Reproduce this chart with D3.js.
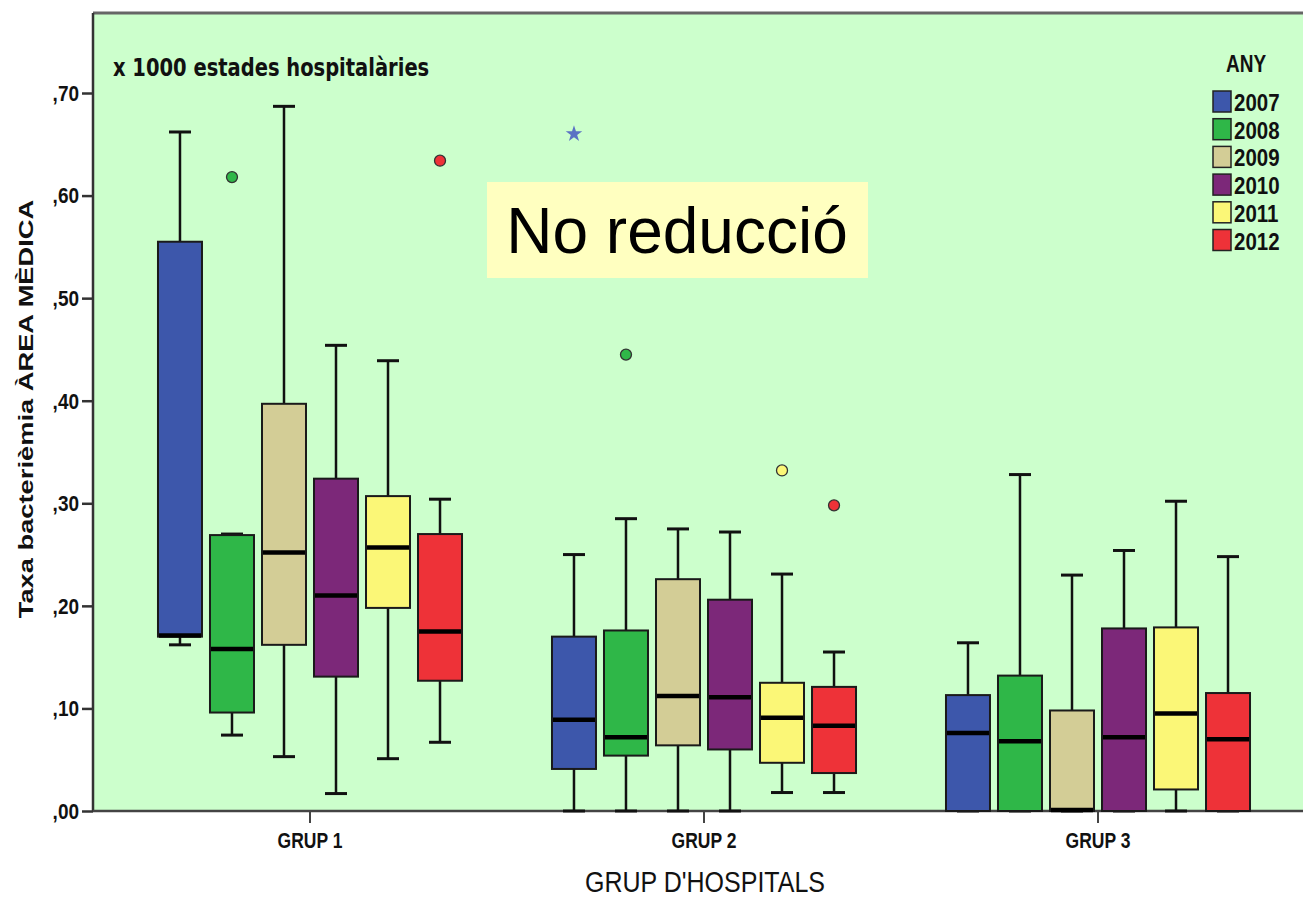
<!DOCTYPE html>
<meta charset="utf-8">
<style>
  body { margin: 0; background: #fff; }
  text { font-family: "Liberation Sans", Arial, sans-serif; fill: #111; }
</style>
<svg width="1303" height="899"></svg>
<script src="https://d3js.org/d3.v7.min.js"></script>
<script>

var groups = ["GRUP 1", "GRUP 2", "GRUP 3"];
var years = ["2007", "2008", "2009", "2010", "2011", "2012"];
var colors = ["#3d57ab", "#2fb748", "#d3cd96", "#7c2879", "#fbf777", "#ee3238"];

// one row per group, one column per year
var whiskerLow = [
  [0.162, 0.074, 0.053, 0.017, 0.051, 0.067],
  [0.000, 0.000, 0.000, 0.000, 0.018, 0.018],
  [0.000, 0.000, 0.000, 0.000, 0.000, 0.000]
];
var q1 = [
  [0.170, 0.096, 0.162, 0.131, 0.198, 0.127],
  [0.041, 0.054, 0.064, 0.060, 0.047, 0.037],
  [0.000, 0.000, 0.000, 0.000, 0.021, 0.000]
];
var median = [
  [0.171, 0.158, 0.252, 0.210, 0.257, 0.175],
  [0.089, 0.072, 0.112, 0.111, 0.091, 0.083],
  [0.076, 0.068, 0.001, 0.072, 0.095, 0.070]
];
var q3 = [
  [0.555, 0.269, 0.397, 0.324, 0.307, 0.270],
  [0.170, 0.176, 0.226, 0.206, 0.125, 0.121],
  [0.113, 0.132, 0.098, 0.178, 0.179, 0.115]
];
var whiskerHigh = [
  [0.662, 0.270, 0.687, 0.454, 0.439, 0.304],
  [0.250, 0.285, 0.275, 0.272, 0.231, 0.155],
  [0.164, 0.328, 0.230, 0.254, 0.302, 0.248]
];

var outlierGroup = ["GRUP 1", "GRUP 1", "GRUP 2", "GRUP 2", "GRUP 2", "GRUP 2"];
var outlierYear = ["2008", "2012", "2007", "2008", "2011", "2012"];
var outlierValue = [0.618, 0.634, 0.660, 0.445, 0.332, 0.298];
var outlierExtreme = [false, false, true, false, false, false];

var yTicks = [0, 0.1, 0.2, 0.3, 0.4, 0.5, 0.6, 0.7];

var svg = d3.select("svg"),
    width = +svg.attr("width"),
    height = +svg.attr("height");

var plotLeft = 93, plotTop = 13, plotBottom = 811, plotRight = width;

var y = d3.scaleLinear()
    .domain([0, 0.778])
    .range([plotBottom, plotTop]);

var x0 = d3.scaleBand()
    .domain(groups)
    .range([113, 1295]);

var x1 = d3.scaleBand()
    .domain(years)
    .range([0, x0.bandwidth()])
    .paddingInner(0.154)
    .paddingOuter(0.865);

var color = d3.scaleOrdinal()
    .domain(years)
    .range(colors);

// plot background
svg.append("rect")
    .attr("x", plotLeft)
    .attr("y", plotTop)
    .attr("width", plotRight - plotLeft)
    .attr("height", plotBottom - plotTop)
    .attr("fill", "#ccffcc");

svg.append("line")
    .attr("x1", plotLeft).attr("x2", plotRight)
    .attr("y1", plotTop).attr("y2", plotTop)
    .attr("stroke", "#666")
    .attr("stroke-width", 3);

// axes
var yAxis = svg.append("g")
    .attr("transform", "translate(" + plotLeft + ",0)")
    .call(d3.axisLeft(y)
      .tickValues(yTicks)
      .tickSize(11)
      .tickPadding(3)
      .tickFormat(function(d) { return d3.format(".2f")(d).replace("0.", ","); }));

yAxis.select(".domain")
    .attr("d", "M0," + plotTop + "V" + plotBottom)
    .attr("stroke", "#333")
    .attr("stroke-width", 2.5);
yAxis.selectAll(".tick line").attr("stroke", "#333").attr("stroke-width", 2.5);
yAxis.selectAll(".tick text")
    .attr("font-size", 19)
    .attr("font-weight", "bold")
    .attr("transform", "scale(1,1.2)");

var xAxis = svg.append("g")
    .attr("transform", "translate(0," + plotBottom + ")")
    .call(d3.axisBottom(x0).tickSize(12).tickSizeOuter(0));

xAxis.select(".domain")
    .attr("d", "M" + plotLeft + ",0H" + plotRight)
    .attr("stroke", "#444")
    .attr("stroke-width", 2.5);
xAxis.selectAll(".tick line").attr("stroke", "#444").attr("stroke-width", 2);
xAxis.selectAll(".tick text")
    .attr("y", 0)
    .attr("dy", null)
    .attr("font-size", 17.5)
    .attr("font-weight", "bold")
    .attr("transform", "translate(0,37) scale(1,1.3)");

// boxes
var cells = [];
groups.forEach(function(g, i) {
  years.forEach(function(yr, j) {
    cells.push({
      group: g, year: yr,
      lo: whiskerLow[i][j], q1: q1[i][j], med: median[i][j],
      q3: q3[i][j], hi: whiskerHigh[i][j]
    });
  });
});

var bw = x1.bandwidth();
var capW = 22;

var box = svg.append("g").selectAll("g")
  .data(cells)
  .enter().append("g")
    .attr("transform", function(d) { return "translate(" + (x0(d.group) + x1(d.year)) + ",0)"; });

box.append("line")
    .attr("x1", bw / 2).attr("x2", bw / 2)
    .attr("y1", function(d) { return y(d.hi); })
    .attr("y2", function(d) { return y(d.lo); })
    .attr("stroke", "#111")
    .attr("stroke-width", 2.5);

box.append("line")
    .attr("x1", bw / 2 - capW / 2).attr("x2", bw / 2 + capW / 2)
    .attr("y1", function(d) { return y(d.hi); })
    .attr("y2", function(d) { return y(d.hi); })
    .attr("stroke", "#111")
    .attr("stroke-width", 3);

box.append("line")
    .attr("x1", bw / 2 - capW / 2).attr("x2", bw / 2 + capW / 2)
    .attr("y1", function(d) { return y(d.lo); })
    .attr("y2", function(d) { return y(d.lo); })
    .attr("stroke", "#111")
    .attr("stroke-width", 3);

box.append("rect")
    .attr("x", 0)
    .attr("width", bw)
    .attr("y", function(d) { return y(d.q3); })
    .attr("height", function(d) { return y(d.q1) - y(d.q3); })
    .attr("fill", function(d) { return color(d.year); })
    .attr("stroke", "#1a1a1a")
    .attr("stroke-width", 2);

box.append("line")
    .attr("x1", 1).attr("x2", bw - 1)
    .attr("y1", function(d) { return y(d.med); })
    .attr("y2", function(d) { return y(d.med); })
    .attr("stroke", "#000")
    .attr("stroke-width", 4.5);

// outliers
var outliers = outlierValue.map(function(v, i) {
  return { group: outlierGroup[i], year: outlierYear[i], value: v, extreme: outlierExtreme[i] };
});

svg.append("g").selectAll("circle")
  .data(outliers.filter(function(d) { return !d.extreme; }))
  .enter().append("circle")
    .attr("cx", function(d) { return x0(d.group) + x1(d.year) + bw / 2; })
    .attr("cy", function(d) { return y(d.value); })
    .attr("r", 5.5)
    .attr("fill", function(d) { return color(d.year); })
    .attr("stroke", "#333")
    .attr("stroke-width", 1.3);

svg.append("g").selectAll("path")
  .data(outliers.filter(function(d) { return d.extreme; }))
  .enter().append("path")
    .attr("transform", function(d) { return "translate(" + (x0(d.group) + x1(d.year) + bw / 2) + "," + y(d.value) + ")"; })
    .attr("d", d3.symbol().type(d3.symbolStar).size(85))
    .attr("fill", "#5b72c4");

// texts
svg.append("text")
    .attr("transform", "translate(113,76) scale(1,1.3)")
    .style("font-family", "'DejaVu Sans', Verdana, sans-serif")
    .attr("font-weight", "bold")
    .attr("font-size", 19.5)
    .text("x 1000 estades hospitalàries");

svg.append("text")
    .attr("transform", "translate(33,409) rotate(-90) scale(1.3,1)")
    .attr("text-anchor", "middle")
    .attr("font-weight", "bold")
    .attr("font-size", 21)
    .text("Taxa bacterièmia ÀREA MÈDICA");

svg.append("text")
    .attr("transform", "translate(705,892) scale(1,1.15)")
    .attr("text-anchor", "middle")
    .attr("font-size", 25)
    .text("GRUP D'HOSPITALS");

// annotation
svg.append("rect")
    .attr("x", 487).attr("y", 182)
    .attr("width", 381).attr("height", 96)
    .attr("fill", "#ffffc0");

svg.append("text")
    .attr("x", 677).attr("y", 253)
    .attr("text-anchor", "middle")
    .attr("font-size", 64)
    .style("fill", "#000")
    .text("No reducció");

// legend
var ly = d3.scaleBand()
    .domain(years)
    .range([91, 91 + 6 * 27.7]);

svg.append("text")
    .attr("transform", "translate(1246,72) scale(1,1.3)")
    .attr("text-anchor", "middle")
    .attr("font-weight", "bold")
    .attr("font-size", 19)
    .text("ANY");

var legend = svg.append("g").selectAll("g")
  .data(years)
  .enter().append("g")
    .attr("transform", function(d) { return "translate(1213," + ly(d) + ")"; });

legend.append("rect")
    .attr("width", 18)
    .attr("height", 21)
    .attr("fill", function(d) { return color(d); })
    .attr("stroke", "#222")
    .attr("stroke-width", 1.5);

legend.append("text")
    .attr("transform", "translate(21,20) scale(1,1.2)")
    .attr("font-weight", "bold")
    .attr("font-size", 20.5)
    .text(function(d) { return d; });

</script>
